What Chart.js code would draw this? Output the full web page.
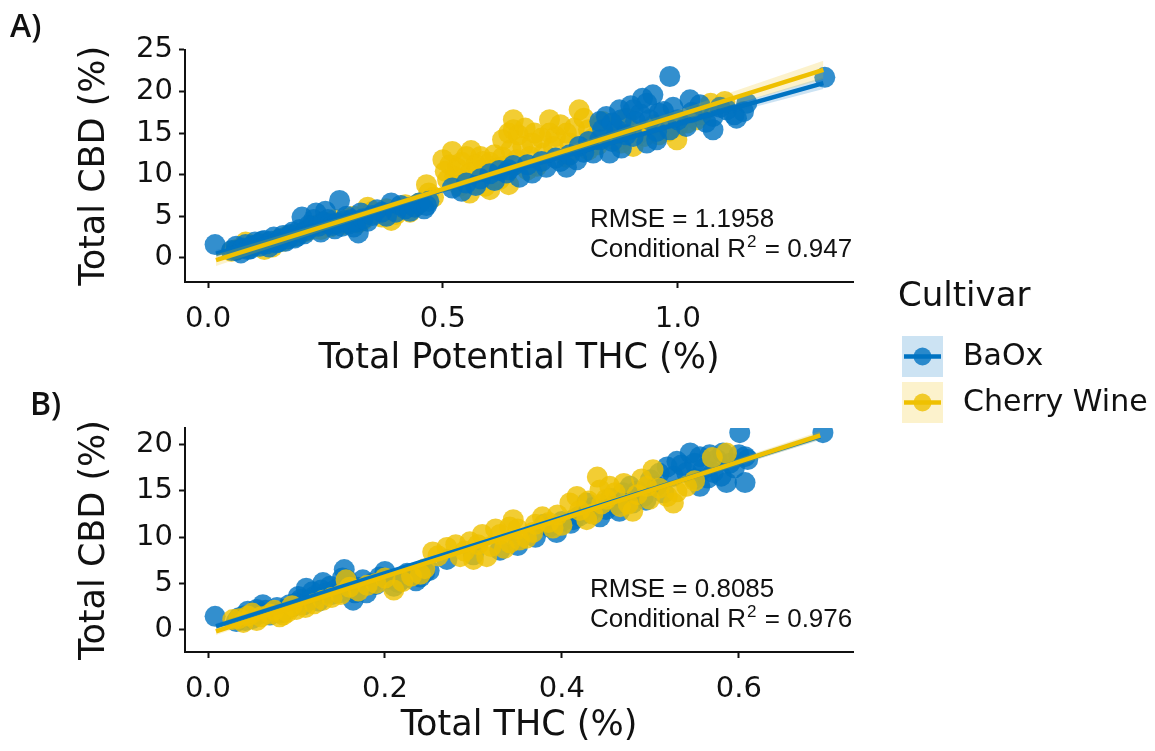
<!DOCTYPE html>
<html>
<head>
<meta charset="utf-8">
<title>Total CBD vs THC</title>
<script src="https://cdn.jsdelivr.net/npm/chart.js@4.4.0/dist/chart.umd.min.js"></script>
<style>
  html, body { margin: 0; padding: 0; background: #fff; }
  #wrap { position: relative; width: 1155px; height: 751px; overflow: hidden; }
  canvas { position: absolute; left: 0; }
  #chartA { top: 0; }
  #chartB { top: 380px; }
</style>
</head>
<body>
<div id="wrap">
  <canvas id="chartA" width="1155" height="440" style="width:1155px;height:440px"></canvas>
  <canvas id="chartB" width="1155" height="371" style="width:1155px;height:371px"></canvas>
</div>
<script>
// --- data: [THC %, CBD %] per sample ---
const cultivars = ['BaOx', 'Cherry Wine'];

// panel A: total potential THC
const baoxA = [
  [0.015,1.6],[0.05,0.9],[0.06,1.4],[0.06,0.9],[0.07,0.6],[0.075,1.2],[0.08,1.6],[0.085,1.0],[0.09,1.1],[0.095,1.5],
  [0.10,1.9],[0.105,1.6],[0.11,1.4],[0.115,2.0],[0.12,2.1],[0.125,1.7],[0.13,1.3],[0.135,2.0],[0.14,2.5],[0.145,1.8],
  [0.15,1.9],[0.155,2.3],[0.16,2.7],[0.165,2.0],[0.17,2.3],[0.175,2.8],[0.18,3.1],[0.185,2.4],[0.19,2.6],[0.195,3.4],
  [0.20,4.9],[0.205,2.9],[0.21,3.3],[0.215,3.9],[0.22,3.7],[0.225,4.6],[0.23,5.4],[0.235,3.8],[0.24,3.1],[0.245,4.3],
  [0.25,5.6],[0.255,4.6],[0.26,4.1],[0.265,3.9],[0.27,3.5],[0.275,4.2],[0.28,6.9],[0.285,3.8],[0.29,4.5],[0.295,5.0],
  [0.30,4.1],[0.305,4.6],[0.31,3.7],[0.315,4.3],[0.32,3.0],[0.325,5.4],[0.33,4.7],[0.34,4.4],[0.35,5.1],[0.36,5.8],
  [0.37,5.5],[0.38,5.0],[0.39,6.6],[0.40,5.5],[0.41,6.3],[0.42,5.9],[0.43,5.6],[0.44,6.1],[0.45,6.6],[0.46,5.9],
  [0.465,6.3],[0.47,6.8],
  [0.52,8.4],[0.54,8.0],[0.55,9.0],[0.57,8.7],[0.58,9.5],[0.60,10.1],[0.61,9.3],[0.62,10.5],[0.635,10.2],[0.64,10.6],
  [0.65,11.1],[0.663,9.7],[0.68,11.2],[0.69,10.2],[0.71,11.6],[0.72,10.9],[0.74,12.0],[0.75,11.6],[0.763,10.9],
  [0.77,12.4],[0.785,11.8],[0.79,13.4],[0.80,12.7],[0.81,14.0],[0.82,12.6],[0.834,14.2],[0.834,16.4],[0.84,15.4],
  [0.848,17.0],[0.855,12.6],[0.86,16.2],[0.86,14.0],[0.87,15.4],[0.876,17.8],[0.88,16.6],[0.88,13.2],[0.89,14.8],
  [0.90,18.3],[0.905,17.8],[0.905,14.6],[0.91,16.4],[0.92,17.3],[0.925,19.2],[0.934,18.6],[0.934,13.8],[0.94,16.6],
  [0.947,19.6],[0.955,14.2],[0.955,15.2],[0.96,17.4],[0.97,17.6],[0.983,21.8],[0.983,15.4],[0.99,18.1],[1.00,16.6],
  [1.018,15.8],[1.026,19.0],[1.03,17.5],[1.047,18.4],[1.06,16.3],[1.075,17.0],[1.075,15.4],[1.09,18.1],[1.104,17.8],
  [1.12,17.2],[1.125,16.8],[1.14,17.6],[1.147,18.6],[1.313,21.7]
];
const cherryA = [
  [0.05,0.8],[0.06,1.0],[0.07,1.2],[0.08,1.9],[0.09,1.3],[0.10,1.5],[0.11,1.8],[0.12,1.0],[0.13,1.6],[0.137,1.3],
  [0.15,2.2],[0.16,2.0],[0.17,2.7],[0.18,2.5],[0.19,2.8],[0.20,3.0],[0.21,3.2],[0.22,3.5],[0.23,3.9],[0.24,3.4],
  [0.25,4.0],[0.26,3.7],[0.27,4.6],[0.28,4.3],[0.29,4.0],[0.30,4.8],[0.31,5.0],[0.32,4.2],[0.33,4.5],[0.34,6.1],
  [0.35,5.6],[0.36,5.3],[0.37,4.9],[0.38,5.9],[0.39,4.5],[0.40,5.2],[0.41,5.8],[0.42,6.4],[0.43,5.5],[0.44,6.2],
  [0.45,6.6],[0.465,8.8],[0.47,7.8],[0.48,7.3],
  [0.50,11.8],[0.505,10.4],[0.51,9.4],[0.515,11.2],[0.52,12.8],[0.525,9.8],[0.53,10.8],[0.535,8.6],[0.54,11.5],
  [0.545,9.3],[0.55,12.2],[0.557,7.8],[0.557,10.2],[0.56,12.9],[0.565,8.9],[0.57,11.2],[0.575,10.6],[0.58,12.2],
  [0.585,11.6],[0.59,8.6],[0.595,9.6],[0.60,8.2],[0.60,11.5],[0.605,10.2],[0.61,12.4],[0.615,10.8],[0.62,9.4],
  [0.627,12.1],[0.627,14.2],[0.63,11.0],[0.64,8.8],[0.64,15.0],[0.645,13.0],[0.65,16.6],[0.65,15.4],[0.657,11.8],
  [0.66,14.8],[0.67,13.4],[0.675,15.6],[0.68,10.6],[0.685,12.2],[0.69,13.8],[0.695,15.0],[0.70,11.0],[0.71,14.4],
  [0.715,12.6],[0.727,16.6],[0.727,15.0],[0.735,13.4],[0.74,14.6],[0.75,16.0],[0.763,15.0],[0.763,12.1],
  [0.77,13.8],[0.78,15.6],[0.79,17.8],[0.80,16.8],[0.81,15.4],[0.81,13.0],[0.82,14.4],[0.83,13.6],[0.834,15.8],
  [0.84,16.4],[0.85,14.6],[0.86,15.6],[0.87,14.0],[0.88,13.8],[0.89,16.8],[0.90,15.4],[0.905,13.4],[0.92,15.0],
  [0.93,14.6],[0.95,16.0],[0.96,14.8],[0.98,15.2],[0.998,14.2],[1.00,15.8],[1.02,16.2],[1.04,16.6],[1.05,17.2],
  [1.07,18.6],[1.10,18.8]
];

// panel B: total THC
const baoxB = [
  [0.008,1.45],[0.032,0.9],[0.035,1.3],[0.04,1.5],[0.042,1.0],[0.045,2.0],[0.05,1.2],[0.055,2.2],[0.058,1.7],
  [0.062,2.7],[0.065,2.1],[0.07,1.6],[0.075,2.0],[0.078,2.4],[0.081,1.8],[0.085,1.9],[0.09,2.3],[0.092,2.7],
  [0.096,2.5],[0.10,2.9],[0.102,3.6],[0.105,3.3],[0.108,2.7],[0.111,4.5],[0.115,3.2],[0.118,4.1],[0.12,3.6],
  [0.125,3.1],[0.128,4.3],[0.13,5.1],[0.135,4.0],[0.138,4.7],[0.14,3.8],[0.145,4.4],[0.148,4.0],[0.152,5.6],
  [0.154,6.5],[0.157,5.4],[0.16,4.8],[0.164,3.2],[0.166,4.0],[0.17,4.6],[0.175,5.4],[0.179,4.0],[0.185,5.0],
  [0.19,4.9],[0.194,5.7],[0.20,6.3],[0.205,5.5],[0.21,4.7],[0.215,5.1],[0.22,5.5],[0.225,6.1],[0.23,6.0],
  [0.235,5.3],[0.24,5.7],[0.245,6.2],[0.25,6.4],
  [0.27,7.6],[0.30,8.1],[0.33,8.6],[0.35,9.1],[0.37,10.0],
  [0.38,11.4],[0.386,11.1],[0.394,10.5],[0.40,11.7],[0.41,11.5],[0.413,11.9],[0.42,12.3],[0.428,13.7],[0.431,12.6],
  [0.435,13.2],[0.443,12.2],[0.45,13.0],[0.455,14.2],[0.46,13.5],[0.465,12.8],[0.469,14.8],[0.477,15.5],
  [0.48,13.7],[0.485,15.0],[0.492,14.4],[0.495,14.0],[0.50,16.2],[0.507,15.5],[0.51,16.9],[0.515,14.8],
  [0.519,17.6],[0.526,16.6],[0.53,18.2],[0.535,17.8],[0.541,17.0],[0.545,19.1],[0.55,18.0],[0.55,16.3],
  [0.556,18.7],[0.556,15.5],[0.56,17.4],[0.565,16.4],[0.567,18.9],[0.571,17.0],[0.575,18.4],[0.58,16.6],
  [0.582,19.1],[0.586,15.9],[0.59,18.0],[0.595,17.5],[0.60,18.9],[0.601,21.3],[0.607,18.7],[0.607,15.9],
  [0.61,18.4],[0.695,21.3]
];
const cherryB = [
  [0.028,1.1],[0.035,1.2],[0.04,0.8],[0.045,1.5],[0.05,1.8],[0.055,1.0],[0.06,1.4],[0.07,1.7],[0.075,2.1],
  [0.081,1.4],[0.085,1.6],[0.09,1.9],[0.095,2.6],[0.10,2.2],[0.11,2.4],[0.12,2.8],[0.13,3.2],[0.14,3.5],
  [0.15,3.8],[0.156,5.4],[0.16,4.6],[0.17,4.2],[0.18,4.8],[0.19,5.0],[0.20,5.6],[0.21,4.3],[0.22,5.2],
  [0.23,5.8],[0.24,6.0],[0.245,6.6],[0.254,8.4],[0.26,8.0],[0.27,8.9],[0.28,9.2],[0.285,7.9],[0.29,8.5],
  [0.296,9.5],[0.30,7.6],[0.305,9.2],[0.31,10.3],[0.315,7.9],[0.32,9.0],[0.325,10.9],[0.33,10.3],[0.335,8.8],
  [0.341,9.4],[0.341,11.1],[0.345,11.9],[0.35,10.9],[0.352,9.7],[0.36,9.9],[0.367,10.5],[0.37,11.4],
  [0.378,12.2],[0.385,11.6],[0.39,11.0],[0.395,12.4],[0.40,11.3],[0.409,13.7],[0.417,14.4],[0.42,12.9],
  [0.428,11.9],[0.43,13.9],[0.435,12.5],[0.44,16.5],[0.443,15.1],[0.445,13.6],[0.45,14.1],[0.454,15.5],
  [0.46,14.8],[0.466,13.3],[0.47,15.8],[0.475,13.6],[0.48,12.8],[0.485,14.6],[0.49,16.3],[0.496,15.5],
  [0.499,14.1],[0.503,17.3],[0.51,15.3],[0.519,14.4],[0.526,13.7],[0.53,14.9],[0.541,15.5],[0.55,16.1],
  [0.57,18.6],[0.586,19.1]
];

// fitted lines (end points) and 95% bands
const fitXA = [0.017, 1.31];
const fitA_BaOx = [0.5, 21.0];
const fitA_Cherry = [-0.28, 22.6];
const bandXA = [0.017, 0.35, 0.66, 1.0, 1.31];
const bandA_BaOx_lo = [0.05, 5.48, 10.44, 15.73, 20.3];
const bandA_BaOx_hi = [0.95, 6.08, 10.94, 16.43, 21.7];
const bandA_Cherry_lo = [-0.98, 5.21, 10.75, 16.52, 21.5];
const bandA_Cherry_hi = [0.42, 6.01, 11.45, 17.72, 23.7];

const fitXB = [0.009, 0.692];
const fitB_BaOx = [0.36, 20.9];
const fitB_Cherry = [-0.18, 21.0];
const bandXB = [0.009, 0.35, 0.692];
const bandB_BaOx_lo = [0.01, 10.41, 20.5];
const bandB_BaOx_hi = [0.71, 10.81, 21.3];
const bandB_Cherry_lo = [-0.55, 10.19, 20.55];
const bandB_Cherry_hi = [0.19, 10.59, 21.45];

// axis ticks
const xTicksA = [0, 0.5, 1.0];
const yTicksA = [0, 5, 10, 15, 20, 25];
const xTicksB = [0, 0.2, 0.4, 0.6];
const yTicksB = [0, 5, 10, 15, 20];

const statsA = { rmse: '1.1958', r2: '0.947' };
const statsB = { rmse: '0.8085', r2: '0.976' };

// --- styling ---
const BLUE = '#0073C2';
const GOLD = '#EFC000';
const INK = '#111';
const FONT = 'DejaVu Sans';

function pts(arr) { return arr.map(p => ({ x: p[0], y: p[1] })); }
function xy(xs, ys) { return xs.map((x, i) => ({ x: x, y: ys[i] })); }

function rgba(hex, a) {
  const n = parseInt(hex.slice(1), 16);
  return `rgba(${n >> 16},${(n >> 8) & 255},${n & 255},${a})`;
}

// lower order = drawn later (on top)
function buildDatasets(p) {
  const baoxOrder = p.cherryOnTop ? 6 : 5;
  const cherryOrder = p.cherryOnTop ? 5 : 6;
  return [
    { type: 'line', data: xy(p.fitX, p.fitCherry), borderColor: GOLD, borderWidth: 4.5, pointRadius: 0, order: 1 },
    { type: 'line', data: xy(p.bandX, p.cherryLo), borderWidth: 0, pointRadius: 0, fill: false, order: 2 },
    { type: 'line', data: xy(p.bandX, p.cherryHi), borderWidth: 0, pointRadius: 0, fill: '-1',
      backgroundColor: rgba(GOLD, 0.2), order: 2 },
    { type: 'line', data: xy(p.fitX, p.fitBaox), borderColor: BLUE, borderWidth: 4.5, pointRadius: 0, order: 3 },
    { type: 'line', data: xy(p.bandX, p.baoxLo), borderWidth: 0, pointRadius: 0, fill: false, order: 4 },
    { type: 'line', data: xy(p.bandX, p.baoxHi), borderWidth: 0, pointRadius: 0, fill: '-1',
      backgroundColor: rgba(BLUE, 0.2), order: 4 },
    { label: cultivars[0], data: pts(p.baox), backgroundColor: rgba(BLUE, 0.8), borderWidth: 0, pointRadius: 10.5, order: baoxOrder },
    { label: cultivars[1], data: pts(p.cherry), backgroundColor: rgba(GOLD, 0.8), borderWidth: 0, pointRadius: 10.5, order: cherryOrder }
  ];
}

function axis(p) {
  return {
    type: 'linear',
    min: p.min,
    max: p.max,
    afterBuildTicks: s => { s.ticks = p.ticks.map(v => ({ value: v })); },
    afterFit: s => { if (p.width) s.width = p.width; if (p.height) s.height = p.height; },
    ticks: {
      callback: v => p.digits ? v.toFixed(p.digits) : String(v),
      font: { family: FONT, size: 29 },
      color: INK,
      padding: p.tickPad
    },
    grid: { drawOnChartArea: false, drawTicks: true, tickLength: 6, tickWidth: 2, tickColor: INK },
    border: { display: true, color: INK, width: 2 },
    title: { display: true, text: p.title, color: INK, font: { family: FONT, size: 35 }, padding: p.titlePad }
  };
}

// panel tag + RMSE / R² note inside the plot
function notesPlugin(tag, tagX, tagY, stats) {
  return {
    id: 'notes' + tag,
    afterDraw(chart) {
      const ctx = chart.ctx;
      const area = chart.chartArea;
      ctx.save();
      ctx.fillStyle = INK;
      ctx.textBaseline = 'alphabetic';
      ctx.font = '600 32px "Open Sans"';
      ctx.fillText(tag + ')', tagX, tagY);

      const left = 590;
      ctx.font = '26px "Liberation Sans"';
      ctx.fillText('RMSE = ' + stats.rmse, left, area.bottom - 55);
      const y2 = area.bottom - 25;
      const head = 'Conditional R';
      ctx.fillText(head, left, y2);
      let x = left + ctx.measureText(head).width + 1;
      ctx.font = '17px "Liberation Sans"';
      ctx.fillText('2', x, y2 - 10);
      x += ctx.measureText('2').width + 1;
      ctx.font = '26px "Liberation Sans"';
      ctx.fillText(' = ' + stats.r2, x, y2);
      ctx.restore();
    }
  };
}

// shared legend, drawn at the right of panel A
const legendPlugin = {
  id: 'cultivarLegend',
  afterDraw(chart) {
    const ctx = chart.ctx;
    ctx.save();
    ctx.fillStyle = INK;
    ctx.textBaseline = 'middle';
    ctx.font = '34px "' + FONT + '"';
    ctx.fillText('Cultivar', 898, 297);
    const colors = [BLUE, GOLD];
    cultivars.forEach((name, i) => {
      const top = 336 + i * 46;
      const cy = top + 20.5;
      ctx.fillStyle = rgba(colors[i], 0.2);
      ctx.fillRect(902, top, 41, 41);
      ctx.strokeStyle = colors[i];
      ctx.lineWidth = 4.5;
      ctx.beginPath();
      ctx.moveTo(904, cy);
      ctx.lineTo(941, cy);
      ctx.stroke();
      ctx.fillStyle = rgba(colors[i], 0.8);
      ctx.beginPath();
      ctx.arc(922.5, cy, 9, 0, Math.PI * 2);
      ctx.fill();
      ctx.fillStyle = INK;
      ctx.font = '30px "' + FONT + '"';
      ctx.fillText(name, 963, cy + 1);
    });
    ctx.restore();
  }
};

const baseOptions = {
  responsive: false,
  animation: false,
  events: [],
  plugins: { legend: { display: false }, tooltip: { enabled: false } }
};

new Chart(document.getElementById('chartA').getContext('2d'), {
  type: 'scatter',
  data: {
    datasets: buildDatasets({
      baox: baoxA, cherry: cherryA, cherryOnTop: false,
      fitX: fitXA, fitBaox: fitA_BaOx, fitCherry: fitA_Cherry,
      bandX: bandXA, baoxLo: bandA_BaOx_lo, baoxHi: bandA_BaOx_hi,
      cherryLo: bandA_Cherry_lo, cherryHi: bandA_Cherry_hi
    })
  },
  options: Object.assign({}, baseOptions, {
    layout: { padding: { left: 0, right: 302, top: 49.5, bottom: 48 } },
    scales: {
      x: axis({ min: -0.049, max: 1.373, ticks: xTicksA, digits: 1, height: 110, tickPad: 14,
                title: 'Total Potential THC (%)', titlePad: { top: 0, bottom: 12 } }),
      y: axis({ min: -2.9, max: 25.05, ticks: yTicksA, width: 185, tickPad: 6,
                title: 'Total CBD (%)', titlePad: { top: 74, bottom: 0 } })
    }
  }),
  plugins: [notesPlugin('A', 10, 37, statsA), legendPlugin]
});

new Chart(document.getElementById('chartB').getContext('2d'), {
  type: 'scatter',
  data: {
    datasets: buildDatasets({
      baox: baoxB, cherry: cherryB, cherryOnTop: true,
      fitX: fitXB, fitBaox: fitB_BaOx, fitCherry: fitB_Cherry,
      bandX: bandXB, baoxLo: bandB_BaOx_lo, baoxHi: bandB_BaOx_hi,
      cherryLo: bandB_Cherry_lo, cherryHi: bandB_Cherry_hi
    })
  },
  options: Object.assign({}, baseOptions, {
    layout: { padding: { left: 0, right: 302, top: 48, bottom: 4 } },
    scales: {
      x: axis({ min: -0.026, max: 0.729, ticks: xTicksB, digits: 1, height: 95, tickPad: 14,
                title: 'Total THC (%)', titlePad: { top: 0, bottom: 0 } }),
      y: axis({ min: -2.4, max: 21.8, ticks: yTicksB, width: 185, tickPad: 6,
                title: 'Total CBD (%)', titlePad: { top: 74, bottom: 0 } })
    }
  }),
  plugins: [notesPlugin('B', 30, 35, statsB)]
});
</script>
</body>
</html>
